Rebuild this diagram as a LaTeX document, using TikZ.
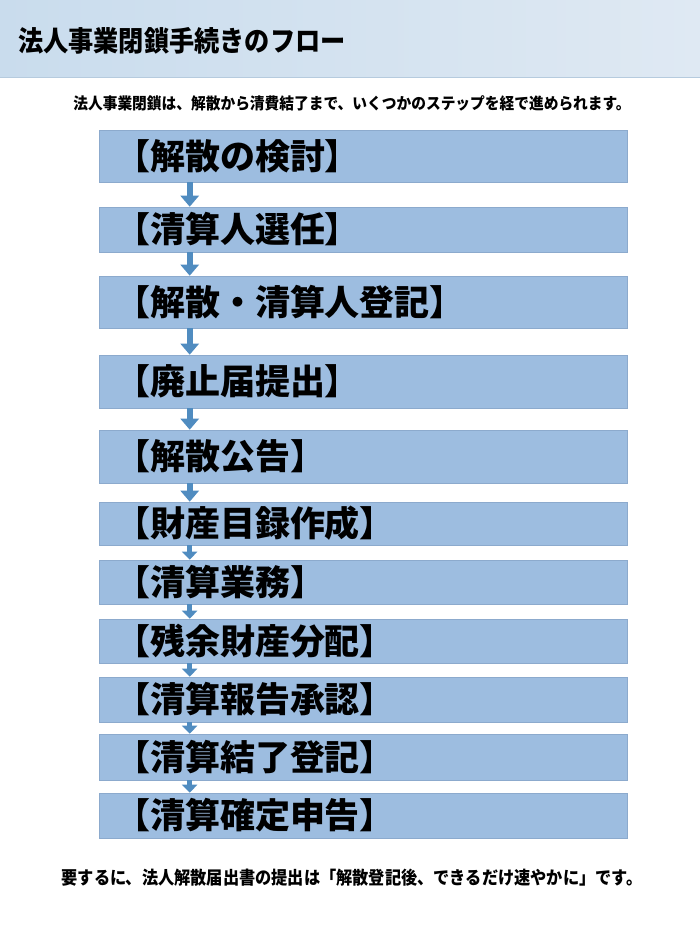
\documentclass[tikz,border=0pt]{standalone}
\usepackage{fontspec}
\setmainfont{Noto Sans CJK JP}
\usetikzlibrary{arrows.meta,positioning}
\definecolor{headleft}{RGB}{201,220,237}
\definecolor{headright}{RGB}{223,233,243}
\definecolor{headline}{RGB}{182,203,222}
\definecolor{boxblue}{RGB}{157,189,224}
\definecolor{boxedge}{RGB}{140,170,205}
\definecolor{arrowblue}{RGB}{80,140,192}
\tikzset{stepbox/.style={rectangle,fill=boxblue,draw=boxedge,line width=0.6pt,minimum width=528pt,
                         text width=496pt,align=left,inner xsep=16pt,inner ysep=0pt,
                         font=\bfseries\fontsize{35}{35}\selectfont},
         flowarrow/.style={draw=arrowblue,line width=6pt,-{Triangle[width=18pt,length=11pt]}},
         smallarrow/.style={draw=arrowblue,line width=5pt,-{Triangle[width=15pt,length=8pt]}},
         note text/.style={font=\bfseries\fontsize{16}{16}\selectfont,inner sep=0pt}
}
\begin{document}
\begin{tikzpicture}[x=1pt,y=-1pt]
\useasboundingbox (0,0) rectangle (700,938);
% header band
\shade[left color=headleft,right color=headright] (0,0) rectangle (700,77);
\draw[headline,line width=1pt] (0,77) -- (700,77);
\node[anchor=west,inner sep=0pt,font=\bfseries\fontsize{28}{28}\selectfont] (title) at (18,41) {\scalebox{0.9}[1]{法人事業閉鎖手続きのフロー}};
\node[note text] (intro) at (352,103) {\scalebox{0.92}[1]{法人事業閉鎖は、解散から清費結了まで、いくつかのステップを経で進められます。}};
% steps
\foreach \i/\ytop/\ybot/\steptext in {
    1/130/182/【解散の検討】,
    2/207/252/【清算人選任】,
    3/276/328/【解散・清算人登記】,
    4/355/408/【廃止届提出】,
    5/430/483/【解散公告】,
    6/502/545/【財産目録作成】,
    7/560/604/【清算業務】,
    8/619/663/【残余財産分配】,
    9/677/722/【清算報告承認】,
    10/734/780/【清算結了登記】,
    11/793/838/【清算確定申告】}
{
    \node[stepbox,minimum height={(\ybot-\ytop)*1pt}] (s\i) at (363,{(\ytop+\ybot)/2}) {\steptext};
}
% arrows between steps
\foreach \i/\astyle in {1/flowarrow,2/flowarrow,3/flowarrow,4/flowarrow,5/flowarrow,
                        6/smallarrow,7/smallarrow,8/smallarrow,9/smallarrow,10/smallarrow}
{
    \pgfmathtruncatemacro{\j}{\i+1}
    \draw[\astyle] ([xshift=91pt]s\i.south west) -- ([xshift=91pt]s\j.north west);
}
\node[note text,font=\bfseries\fontsize{18}{18}\selectfont] (summary) at (352,878) {\scalebox{0.9}[1]{要するに、法人解散届出書の提出は「解散登記後、できるだけ速やかに」です。}};
\end{tikzpicture}
\end{document}
